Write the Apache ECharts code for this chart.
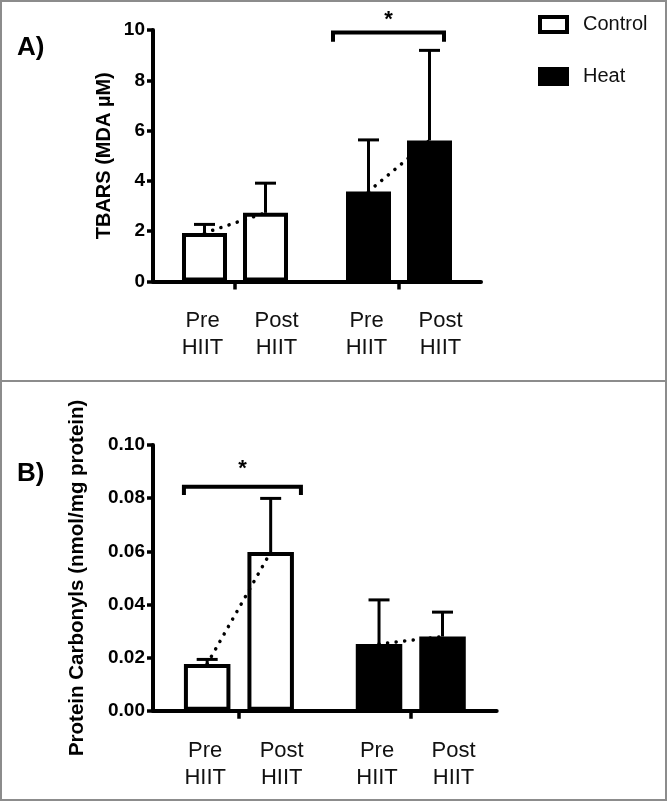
<!DOCTYPE html>
<html>
<head>
<meta charset="utf-8">
<script src="https://cdn.jsdelivr.net/npm/echarts@6/dist/echarts.min.js"></script>
<style>
html,body{margin:0;padding:0;background:#fff;}
#c{width:669px;height:804px;}
</style>
</head>
<body>
<div id="c"></div>
<script>
// ---------------- DATA ----------------
const groups = ['Control', 'Heat'];
const timeLabels = ['Pre\nHIIT', 'Post\nHIIT'];

// Panel A: TBARS (MDA µM)
const tbarsPre = [1.93, 3.58];
const tbarsPost = [2.73, 5.61];
const tbarsPreErr = [0.34, 2.05];
const tbarsPostErr = [1.18, 3.58];
const tbarsAxis = { min: 0, max: 10, interval: 2 };

// Panel B: Protein Carbonyls (nmol/mg protein)
const carbPre = [0.0176, 0.0251];
const carbPost = [0.0597, 0.0279];
const carbPreErr = [0.0017, 0.0166];
const carbPostErr = [0.0202, 0.0092];
const carbAxis = { min: 0, max: 0.1, interval: 0.02 };

// significance brackets: [panel A, panel B]
const sigGroup = [1, 0];
const sigLevel = [9.9, 0.0843];
const sigDrop = [9.53, 0.0812];
const sigStar = [10.55, 0.0925];
const sigText = ['*', '*'];

// ---------------- STYLE ----------------
const FONT = "'Liberation Sans', Arial, Helvetica, sans-serif";
const groupFill = ['#ffffff', '#000000'];
const panelStyle = [
  { grid: { left: 153, right: 188, top: 30, bottom: 522.5 }, barWidth: 45, spacing: 61,
    labelDist: 26, nameGap: 39, nameSize: 20, bracketL: -66, bracketR: 45 },
  { grid: { left: 153, right: 172.3, top: 445, bottom: 93.3 }, barWidth: 46.5, spacing: 63.5,
    labelDist: 26.5, nameGap: 65, nameSize: 20.5, bracketL: -55, bracketR: 62 }
];

const chart = echarts.init(document.getElementById('c'), null, { renderer: 'canvas' });

function makePanel(idx, pre, post, preErr, postErr, axisCfg, yName, fmt) {
  const ps = panelStyle[idx];
  const half = ps.spacing / 2;
  const gapPct = ((ps.spacing / ps.barWidth - 1) * 100).toFixed(2) + '%';
  const series = [];
  const mkBar = (vals, k) => ({
    type: 'bar', name: k === 0 ? 'Pre' : 'Post',
    xAxisIndex: idx, yAxisIndex: idx,
    barWidth: ps.barWidth, barGap: gapPct,
    z: 2,
    data: vals.map((v, i) => ({ value: v, itemStyle: { color: groupFill[i] } })),
    itemStyle: { borderColor: '#000', borderWidth: 4 },
    label: {
      show: true, position: 'bottom', distance: ps.labelDist,
      formatter: timeLabels[k], fontSize: 22, lineHeight: 27,
      fontFamily: FONT, color: '#111', offset: [k === 0 ? -2 : 11, 0]
    },
    emphasis: { disabled: true }, silent: true
  });
  series.push(mkBar(pre, 0), mkBar(post, 1));

  // error bars (upper SD)
  const errData = [];
  pre.forEach((v, i) => errData.push([i, v, preErr[i], -1]));
  post.forEach((v, i) => errData.push([i, v, postErr[i], 1]));
  series.push({
    type: 'custom', xAxisIndex: idx, yAxisIndex: idx, z: 5, silent: true,
    data: errData,
    renderItem: function (params, api) {
      const gi = api.value(0), v = api.value(1), e = api.value(2), side = api.value(3);
      const p0 = api.coord([gi, v]);
      const p1 = api.coord([gi, v + e]);
      const x = p0[0] + side * half;
      const st = { stroke: '#000', lineWidth: 3 };
      return { type: 'group', children: [
        { type: 'line', shape: { x1: x, y1: p0[1], x2: x, y2: p1[1] }, style: st },
        { type: 'line', shape: { x1: x - 10.5, y1: p1[1], x2: x + 10.5, y2: p1[1] }, style: st }
      ]};
    }
  });

  // dotted connector pre -> post
  series.push({
    type: 'custom', xAxisIndex: idx, yAxisIndex: idx, z: 4, silent: true,
    data: pre.map((v, i) => [i, v, post[i]]),
    renderItem: function (params, api) {
      const gi = api.value(0);
      const a = api.coord([gi, api.value(1)]);
      const b = api.coord([gi, api.value(2)]);
      return { type: 'line',
        shape: { x1: a[0] - half, y1: a[1], x2: b[0] + half, y2: b[1] },
        style: { stroke: '#000', lineWidth: 3.5, lineDash: [0.1, 8.5], lineCap: 'round' } };
    }
  });

  // significance bracket
  series.push({
    type: 'custom', xAxisIndex: idx, yAxisIndex: idx, z: 5, silent: true, clip: false,
    data: [[sigGroup[idx], sigLevel[idx], sigDrop[idx], sigStar[idx]]],
    renderItem: function (params, api) {
      const gi = api.value(0);
      const top = api.coord([gi, api.value(1)]);
      const drop = api.coord([gi, api.value(2)]);
      const star = api.coord([gi, api.value(3)]);
      const xl = top[0] + ps.bracketL, xr = top[0] + ps.bracketR;
      return { type: 'group', children: [
        { type: 'polyline', shape: { points: [[xl, drop[1]], [xl, top[1]], [xr, top[1]], [xr, drop[1]]] },
          style: { stroke: '#000', lineWidth: 4, fill: null } },
        { type: 'text', x: (xl + xr) / 2, y: star[1] + 4,
          style: { text: sigText[idx], fontSize: 22, fontWeight: 'bold', fontFamily: FONT,
            fill: '#000', align: 'center', verticalAlign: 'middle' } }
      ]};
    }
  });

  const xAxis = {
    type: 'category', gridIndex: idx, data: groups, boundaryGap: true,
    axisLine: { show: true, lineStyle: { color: '#000', width: 4 } },
    axisTick: { show: true, alignWithLabel: true, length: 8, lineStyle: { color: '#000', width: 3.5 } },
    axisLabel: { show: false }, splitLine: { show: false }
  };
  const yAxis = {
    type: 'value', gridIndex: idx, min: axisCfg.min, max: axisCfg.max, interval: axisCfg.interval,
    name: yName, nameLocation: 'middle', nameGap: ps.nameGap,
    nameTextStyle: { fontSize: ps.nameSize, fontWeight: 'bold', fontFamily: FONT, color: '#000' },
    axisLine: { show: true, lineStyle: { color: '#000', width: 4 } },
    axisTick: { show: true, length: 6, lineStyle: { color: '#000', width: 3.5 } },
    axisLabel: { fontSize: 19, fontWeight: 'bold', fontFamily: FONT, color: '#000', margin: 8,
      formatter: fmt },
    splitLine: { show: false }
  };
  return { grid: Object.assign({ containLabel: false }, ps.grid), xAxis, yAxis, series };
}

const pA = makePanel(0, tbarsPre, tbarsPost, tbarsPreErr, tbarsPostErr, tbarsAxis,
  'TBARS (MDA µM)', v => String(v));
const pB = makePanel(1, carbPre, carbPost, carbPreErr, carbPostErr, carbAxis,
  'Protein Carbonyls (nmol/mg protein)', v => v.toFixed(2));

const ctrlIcon = { color: '#fff', borderColor: '#000', borderWidth: 4, opacity: 1 };
const heatIcon = { color: '#000', borderColor: '#000', borderWidth: 4, opacity: 1 };
const legendSeries = [
  { name: 'Control', type: 'scatter', xAxisIndex: 0, yAxisIndex: 0, data: [], itemStyle: ctrlIcon },
  { name: 'Heat', type: 'scatter', xAxisIndex: 0, yAxisIndex: 0, data: [], itemStyle: heatIcon }
];

const option = {
  animation: false,
  backgroundColor: '#fff',
  title: [
    { text: 'A)', left: 17, top: 35, padding: 0,
      textStyle: { fontSize: 26, fontWeight: 'bold', fontFamily: FONT, color: '#000' } },
    { text: 'B)', left: 17, top: 461, padding: 0,
      textStyle: { fontSize: 26, fontWeight: 'bold', fontFamily: FONT, color: '#000' } }
  ],
  legend: {
    orient: 'vertical', left: 538, top: 14.5, padding: 0,
    itemWidth: 27, itemHeight: 15, itemGap: 32, icon: 'rect', selectedMode: false,
    data: [
      { name: 'Control', itemStyle: ctrlIcon },
      { name: 'Heat', itemStyle: heatIcon }
    ],
    textStyle: { fontSize: 20, fontFamily: FONT, color: '#111', padding: [0, 0, 0, 11], lineHeight: 15 }
  },
  grid: [pA.grid, pB.grid],
  xAxis: [pA.xAxis, pB.xAxis],
  yAxis: [pA.yAxis, pB.yAxis],
  series: pA.series.concat(pB.series, legendSeries),
  graphic: [
    { type: 'rect', shape: { x: 1, y: 1, width: 665, height: 799 },
      style: { fill: null, stroke: '#8c8c8c', lineWidth: 2 }, silent: true, z: 100 },
    { type: 'line', shape: { x1: 1, y1: 381, x2: 666, y2: 381 },
      style: { stroke: '#8c8c8c', lineWidth: 2 }, silent: true, z: 100 }
  ]
};
chart.setOption(option);
</script>
</body>
</html>
